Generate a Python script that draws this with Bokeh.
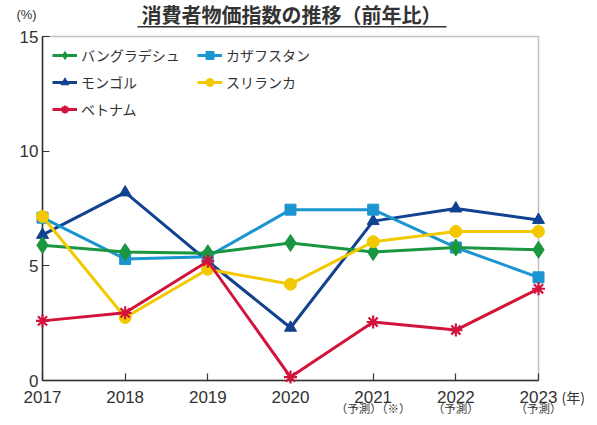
from bokeh.plotting import figure
from bokeh.models import (Legend, LegendItem, Label, BoxAnnotation, FixedTicker,
                          Range1d)
from bokeh.embed import file_html
from bokeh.resources import INLINE

years = [2017, 2018, 2019, 2020, 2021, 2022, 2023]
year_labels = ["2017", "2018", "2019", "2020", "2021", "2022", "2023"]
y_ticks = [0, 5, 10, 15]
sub_years = [2021, 2022, 2023]
sub_texts = ["（予測）（※）", "（予測）", "（予測）"]

bangladesh = [5.9, 5.6, 5.55, 6.0, 5.6, 5.8, 5.7]
kazakhstan = [7.1, 5.3, 5.4, 7.45, 7.45, 5.8, 4.5]
mongolia = [6.35, 8.2, 5.2, 2.3, 6.95, 7.5, 7.0]
srilanka = [7.15, 2.75, 4.85, 4.2, 6.05, 6.5, 6.5]
vietnam = [2.6, 2.95, 5.2, 0.15, 2.55, 2.2, 4.0]

FONT_JP = "Noto Sans CJK JP"
FONT_NUM = "Liberation Sans"
TXT = "#333333"

# canvas geometry (pixels)
W, H = 589, 417
PL, PR, PT, PB = 42, 538, 36, 380   # data box edges
x0, x1 = years[0], years[-1]
y0, y1 = y_ticks[0], y_ticks[-1]
sx = (PR - PL) / (x1 - x0)
sy = (PB - PT) / (y1 - y0)
xr = Range1d(x0 - PL / sx, x1 + (W - PR) / sx)
yr = Range1d(y0 - (H - PB) / sy, y1 + PT / sy)

p = figure(width=W, height=H, min_border=0,
           x_range=xr, y_range=yr,
           output_backend="svg", toolbar_location=None)
p.xgrid.visible = False
p.ygrid.visible = False
p.outline_line_color = None
p.background_fill_color = "white"
p.border_fill_color = "white"

p.xaxis.fixed_location = y0
p.xaxis.bounds = (x0, x1)
p.yaxis.fixed_location = x0
p.yaxis.bounds = (y0, y1)
p.xaxis.ticker = FixedTicker(ticks=years)
p.xaxis.major_label_overrides = {y: s for y, s in zip(years, year_labels)}
p.yaxis.ticker = FixedTicker(ticks=y_ticks)
for ax in (p.xaxis, p.yaxis):
    ax.axis_line_color = TXT
    ax.axis_line_width = 1.5
    ax.major_tick_line_color = TXT
    ax.major_tick_line_width = 1.2
    ax.minor_tick_line_color = None
    ax.major_tick_out = 0
    ax.major_tick_in = 7
    ax.major_label_text_font = FONT_NUM
    ax.major_label_text_font_size = "17px"
    ax.major_label_text_color = TXT
    ax.level = "underlay"
p.xaxis.major_label_standoff = 10
p.yaxis.major_label_standoff = 4

p.add_layout(BoxAnnotation(left=x0, right=x1, bottom=y0, top=y1,
                           fill_alpha=0, line_color=TXT, line_width=1.5,
                           level="underlay"))

series = [
    ("モンゴル", mongolia, "#10428f", dict(marker="triangle", size=12)),
    ("カザフスタン", kazakhstan, "#1b95d0", dict(marker="square", size=11)),
    ("バングラデシュ", bangladesh, "#1a9640", dict(marker="diamond", size=17)),
    ("スリランカ", srilanka, "#f2c900", dict(marker="circle", size=12)),
    ("ベトナム", vietnam, "#d2143c", dict(marker="asterisk", size=13)),
]

items = {}
for name, vals, col, mk in series:
    l = p.line(years, vals, line_color=col, line_width=3)
    if mk["marker"] == "asterisk":
        s = p.scatter(years, vals, line_color=col, line_width=2.2, **mk)
    else:
        s = p.scatter(years, vals, fill_color=col, line_color=col, **mk)
    items[name] = LegendItem(label=name, renderers=[l, s])

def make_legend(names, loc):
    lg = Legend(items=[items[n] for n in names], location=loc,
                label_text_font=FONT_JP, label_text_font_size="14px",
                label_text_color=TXT, glyph_width=25, glyph_height=20,
                label_height=20, spacing=7, padding=7, margin=0,
                label_standoff=4, border_line_color=None,
                background_fill_alpha=0)
    p.add_layout(lg)

make_legend(["バングラデシュ", "モンゴル", "ベトナム"], (52, 298))
make_legend(["カザフスタン", "スリランカ"], (197, 325))

# title with underline
p.add_layout(Label(x=291, y=H - 14, x_units="screen", y_units="screen",
                   text="消費者物価指数の推移（前年比）", text_font=FONT_JP,
                   text_font_size="20px", text_font_style="bold",
                   text_color=TXT, text_align="center", text_baseline="middle"))
p.add_layout(BoxAnnotation(left=137, right=446, bottom=H - 27, top=H - 25.5,
                           left_units="screen", right_units="screen",
                           bottom_units="screen", top_units="screen",
                           fill_color=TXT, fill_alpha=1, line_alpha=0))

p.add_layout(Label(x=26, y=H - 14, x_units="screen", y_units="screen",
                   text="(%)", text_font=FONT_NUM, text_font_size="13px",
                   text_color=TXT, text_align="center", text_baseline="middle"))
p.add_layout(Label(x=561, y=H - 396, x_units="screen", y_units="screen",
                   text="(年)", text_font=FONT_JP, text_font_size="14px",
                   text_color=TXT, text_align="left", text_baseline="middle"))
for yr, txt in zip(sub_years, sub_texts):
    p.add_layout(Label(x=yr, y=H - 407, y_units="screen", text=txt,
                       text_font=FONT_JP, text_font_size="11.5px",
                       text_color=TXT, text_align="center",
                       text_baseline="middle"))

open("out.html", "w").write(file_html(p, INLINE))
